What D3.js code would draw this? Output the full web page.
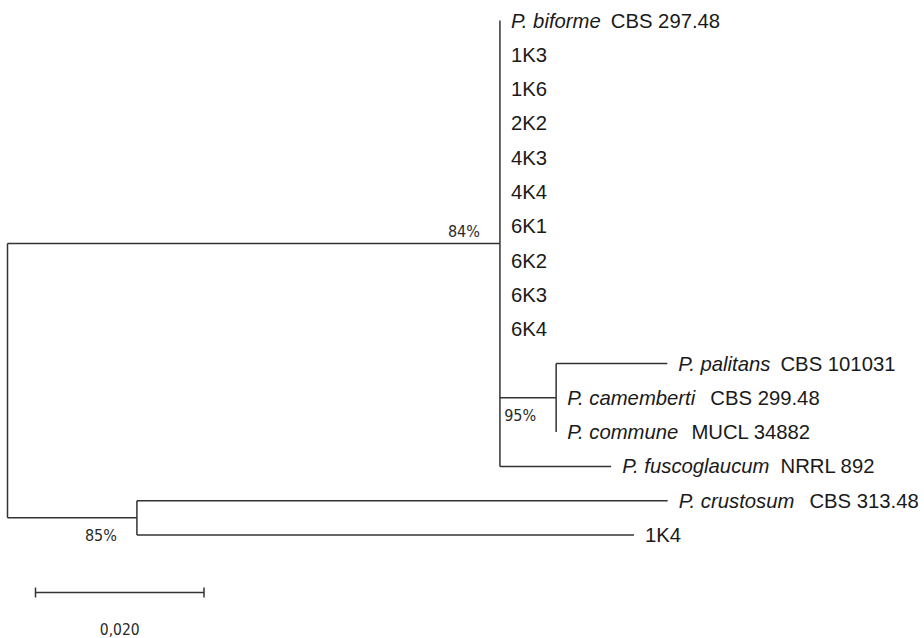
<!DOCTYPE html>
<html>
<head>
<meta charset="utf-8">
<script src="https://cdn.jsdelivr.net/npm/d3@7"></script>
<style>
  html, body { margin: 0; padding: 0; background: #fff; }
  svg { display: block; }
</style>
</head>
<body>
<svg id="chart" width="924" height="638"></svg>
<script>
// ---- Tree data (branch lengths in substitutions/site) ----
const nodeId      = ["root", "upper", "lower", "palGroup",
  "biforme", "1K3", "1K6", "2K2", "4K3", "4K4", "6K1", "6K2", "6K3", "6K4",
  "palitans", "camemberti", "commune", "fuscoglaucum", "crustosum", "1K4"];
const nodeParent  = ["", "root", "root", "upper",
  "upper", "upper", "upper", "upper", "upper", "upper", "upper", "upper", "upper", "upper",
  "palGroup", "palGroup", "palGroup", "upper", "lower", "lower"];
const nodeLength  = [0, 0.05845, 0.01536, 0.00667,
  0, 0, 0, 0, 0, 0, 0, 0, 0, 0,
  0.0132, 0, 0, 0.0132, 0.0630, 0.0590];
const nodeSupport = [null, "84%", "85%", "95%",
  null, null, null, null, null, null, null, null, null, null,
  null, null, null, null, null, null];
const supportSide = [null, "above", "below", "below"];

// order of children under the upper clade
const orderUpper = ["biforme","1K3","1K6","2K2","4K3","4K4","6K1","6K2","6K3","6K4","palGroup","fuscoglaucum"];

// leaf labels: species part (italic) + strain part
const leafSpecies = { biforme: "P. biforme", palitans: "P. palitans", camemberti: "P. camemberti",
  commune: "P. commune", fuscoglaucum: "P. fuscoglaucum", crustosum: "P. crustosum" };
const leafStrain  = { biforme: "CBS 297.48", palitans: "CBS 101031", camemberti: "CBS 299.48",
  commune: "MUCL 34882", fuscoglaucum: "NRRL 892", crustosum: "CBS 313.48",
  "1K3": "1K3", "1K6": "1K6", "2K2": "2K2", "4K3": "4K3", "4K4": "4K4",
  "6K1": "6K1", "6K2": "6K2", "6K3": "6K3", "6K4": "6K4", "1K4": "1K4" };
const strainGap   = { biforme: 10, palitans: 10, camemberti: 15, commune: 13, fuscoglaucum: 11, crustosum: 15 };

const scaleBarValue = 0.02;
const scaleBarLabel = "0,020";

// ---- Build hierarchy ----
const rows = nodeId.map((id, i) => ({ id, parent: nodeParent[i] || null, len: nodeLength[i], support: nodeSupport[i], side: supportSide[i] || null }));
const root = d3.stratify().id(d => d.id).parentId(d => d.parent)(rows);
root.each(n => {
  if (n.data.id === "upper") n.children.sort((a, b) => orderUpper.indexOf(a.data.id) - orderUpper.indexOf(b.data.id));
});
root.eachBefore(n => { n.dist = n.parent ? n.parent.dist + n.data.len : 0; });

const leaves = root.leaves();

const x = d3.scaleLinear().domain([0, scaleBarValue]).range([7.5, 176]);
const y = d3.scalePoint().domain(leaves.map(d => d.data.id)).range([20.5, 535]);

leaves.forEach(l => { l.py = y(l.data.id); });
root.eachAfter(n => {
  if (n.children) n.py = (n.children[0].py + n.children[n.children.length - 1].py) / 2;
  n.px = x(n.dist);
});

const svg = d3.select("#chart");
const lineColor = "#333";
const g = svg.append("g");

// horizontal branches
g.selectAll("line.h").data(root.descendants().filter(n => n.parent && n.data.len > 0))
  .join("line").attr("class", "h")
  .attr("x1", d => d.parent.px).attr("x2", d => d.px)
  .attr("y1", d => d.py).attr("y2", d => d.py)
  .attr("stroke", lineColor).attr("stroke-width", 1.5);

// vertical connectors
g.selectAll("line.v").data(root.descendants().filter(n => n.children))
  .join("line").attr("class", "v")
  .attr("x1", d => d.px).attr("x2", d => d.px)
  .attr("y1", d => d.children[0].py).attr("y2", d => d.children[d.children.length - 1].py)
  .attr("stroke", lineColor).attr("stroke-width", 1.5);

// leaf labels
const lab = g.selectAll("text.leaf").data(leaves).join("text").attr("class", "leaf")
  .attr("x", d => d.px + 11).attr("y", d => d.py + 7)
  .attr("font-family", "'Liberation Sans', Arial, sans-serif").attr("font-size", 20.3)
  .attr("fill", "#1a1a1a");
lab.each(function(d) {
  const t = d3.select(this);
  const sp = leafSpecies[d.data.id];
  if (sp) {
    t.append("tspan").attr("font-style", "italic").text(sp);
    t.append("tspan").attr("dx", strainGap[d.data.id] - 5.6).text(" " + leafStrain[d.data.id]);
  } else {
    t.append("tspan").text(leafStrain[d.data.id]);
  }
});

// support values
g.selectAll("text.sup").data(root.descendants().filter(n => n.data.support))
  .join("text").attr("class", "sup")
  .attr("x", d => d.px - 20)
  .attr("y", d => d.data.side === "above" ? d.py - 6 : d.py + 23)
  .attr("text-anchor", "end")
  .attr("font-family", "'DejaVu Sans', sans-serif").attr("font-stretch", "condensed")
  .attr("font-size", 16).attr("fill", "#2a2a2a")
  .text(d => d.data.support);

// scale bar
const barLen = x(scaleBarValue) - x(0);
const bx0 = 35.5, by = 592.5;
const sb = svg.append("g");
sb.append("line").attr("x1", bx0).attr("x2", bx0 + barLen).attr("y1", by).attr("y2", by)
  .attr("stroke", lineColor).attr("stroke-width", 1.5);
[bx0, bx0 + barLen].forEach(px => sb.append("line").attr("x1", px).attr("x2", px)
  .attr("y1", by - 5).attr("y2", by + 5).attr("stroke", lineColor).attr("stroke-width", 1.5));
sb.append("text").attr("x", bx0 + barLen / 2).attr("y", 635).attr("text-anchor", "middle")
  .attr("font-family", "'DejaVu Sans', sans-serif").attr("font-stretch", "condensed")
  .attr("font-size", 15.5).attr("fill", "#2a2a2a").text(scaleBarLabel);
</script>
</body>
</html>
